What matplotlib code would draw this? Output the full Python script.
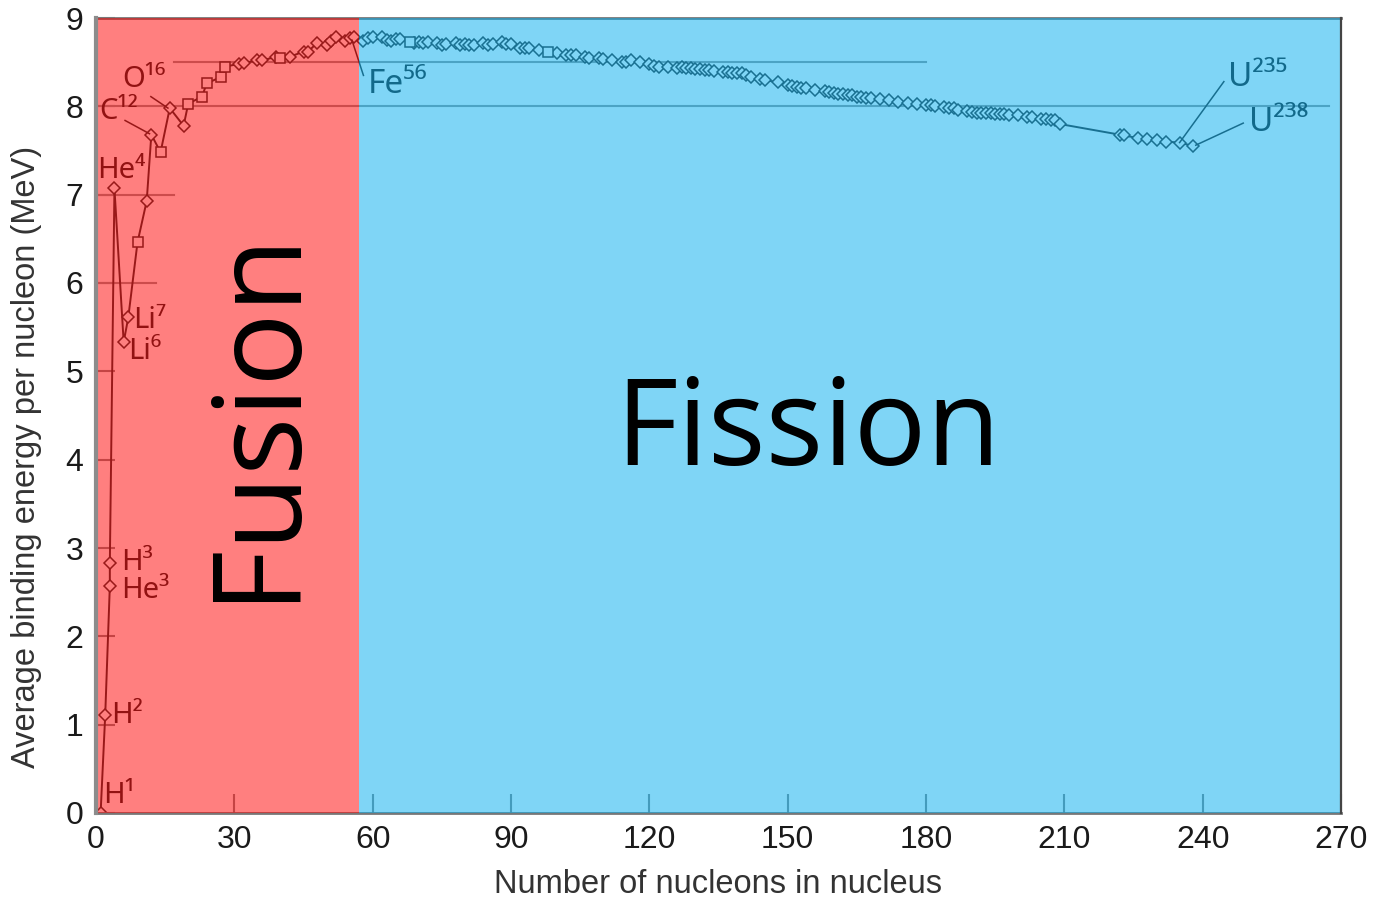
import matplotlib
matplotlib.use("Agg")
import matplotlib.pyplot as plt
from matplotlib import font_manager

# average binding energy per nucleon (MeV)
mass_number = [1, 2, 3, 3, 4, 6, 7, 9, 11, 12, 14, 16, 19, 20, 23, 24, 27, 28,
               31, 32, 35, 36, 39, 40, 42, 45, 46, 48, 50, 51, 52, 54, 55, 56,
               58, 59, 60, 62, 63, 64, 65, 66, 68, 69, 70, 71, 72, 74, 75, 76,
               78, 79, 80, 81, 82, 84, 85, 86, 88, 89, 90, 92, 93, 94, 96, 98,
               100, 102, 103, 104, 106, 107, 109, 110, 112, 114, 115, 116, 118,
               120, 121, 122, 124, 126, 127, 128, 129, 130, 131, 132, 133, 134,
               136, 137, 138, 139, 140, 141, 142, 144, 145, 148, 150, 151, 152,
               153, 154, 156, 158, 159, 160, 161, 162, 163, 164, 165, 166, 167,
               168, 170, 172, 174, 176, 178, 180, 181, 182, 184, 185, 186, 187,
               189, 190, 191, 192, 193, 194, 195, 196, 197, 198, 200, 202, 203,
               205, 206, 207, 208, 209, 222, 223, 226, 228, 230, 232, 235, 238]
binding_energy = [0.0, 1.11, 2.57, 2.83, 7.07, 5.33, 5.61, 6.46, 6.93, 7.68, 7.48,
                  7.98, 7.78, 8.03, 8.11, 8.26, 8.33, 8.45, 8.48, 8.49, 8.52, 8.52,
                  8.56, 8.55, 8.56, 8.62, 8.62, 8.72, 8.70, 8.74, 8.78, 8.74, 8.77,
                  8.79,
                  8.74, 8.77, 8.78, 8.79, 8.75, 8.74, 8.76, 8.76, 8.73, 8.72, 8.73,
                  8.72, 8.73, 8.72, 8.70, 8.71, 8.72, 8.69, 8.71, 8.70, 8.69, 8.72,
                  8.70, 8.71, 8.73, 8.71, 8.71, 8.66, 8.66, 8.66, 8.64, 8.61, 8.60,
                  8.58, 8.58, 8.58, 8.56, 8.55, 8.55, 8.54, 8.52, 8.50, 8.50, 8.52,
                  8.50, 8.48, 8.46, 8.45, 8.44, 8.43, 8.44, 8.43, 8.43, 8.42, 8.42,
                  8.41, 8.41, 8.40, 8.39, 8.39, 8.38, 8.38, 8.38, 8.35, 8.33, 8.31,
                  8.30, 8.27, 8.24, 8.23, 8.22, 8.21, 8.21, 8.19, 8.17, 8.16, 8.15,
                  8.14, 8.14, 8.13, 8.13, 8.11, 8.11, 8.10, 8.10, 8.08, 8.07, 8.05,
                  8.04, 8.03, 8.02, 8.01, 8.00, 7.99, 7.98, 7.98, 7.96, 7.95, 7.94,
                  7.93, 7.93, 7.92, 7.92, 7.91, 7.91, 7.91, 7.90, 7.90, 7.88, 7.88,
                  7.86, 7.86, 7.85, 7.85, 7.80, 7.68, 7.67, 7.64, 7.63, 7.62, 7.60,
                  7.59, 7.55]
square_points = [9, 14, 20, 23, 24, 27, 28, 40, 68, 98]

fusion_end = 57
x_ticks = [0, 30, 60, 90, 120, 150, 180, 210, 240, 270]
y_ticks = [0, 1, 2, 3, 4, 5, 6, 7, 8, 9]

labels = ["H¹", "H²", "H³", "He³", "He⁴", "Li⁶", "Li⁷", "C¹²", "O¹⁶",
          "Fe⁵⁶", "U²³⁵", "U²³⁸"]
label_x = [1.5, 3.3, 5.4, 5.4, 0.2, 7.0, 8.0, 0.6, 5.6, 59, 245.5, 250]
label_y = [0.2, 1.1, 2.84, 2.52, 7.27, 5.22, 5.58, 7.94, 8.30, 8.25, 8.33, 7.82]

# leader lines from label to its point
leaders = [((6.3, 7.84), (11.6, 7.69)),
           ((11.9, 8.11), (15.6, 7.98)),
           ((58.0, 8.35), (55.5, 8.75)),
           ((244.6, 8.28), (235.0, 7.59)),
           ((248.8, 7.81), (238.5, 7.56))]

names = set(f.name for f in font_manager.fontManager.ttflist)
if "Liberation Sans Narrow" in names:
    axis_font = "Liberation Sans Narrow"
    axis_size = 27
else:
    axis_font = "Liberation Sans"
    axis_size = 23.5

fig = plt.figure(figsize=(13.75, 9.02), dpi=100)
ax = fig.add_axes([96 / 1375, 1 - 813 / 902, 1245 / 1375, 795 / 902])
ax.set_xlim(0, 270)
ax.set_ylim(0, 9)
ax.set_axisbelow(True)

# reference lines of the original chart
ax.plot([0, 13], [6, 6], color="#9a9a9a", lw=1.5, zorder=1)
ax.plot([0, 17], [7, 7], color="#9a9a9a", lw=1.5, zorder=1)
ax.plot([0, 267.5], [8, 8], color="#9a9a9a", lw=1.5, zorder=1)
ax.plot([17, 180], [8.5, 8.5], color="#9a9a9a", lw=1.5, zorder=1)

ax.plot(mass_number, binding_energy, color="#333333", lw=1.4, zorder=1.5)
dx = [a for a in mass_number if a not in square_points]
dy = [b for a, b in zip(mass_number, binding_energy) if a not in square_points]
sx = [a for a in mass_number if a in square_points]
sy = [b for a, b in zip(mass_number, binding_energy) if a in square_points]
ax.plot(dx, dy, ls="none", marker="D", ms=6.5, mfc="white", mec="#333333",
        mew=1.1, zorder=1.6)
ax.plot(sx, sy, ls="none", marker="s", ms=7.5, mfc="white", mec="#333333",
        mew=1.1, zorder=1.6)

for (x0, y0), (x1, y1) in leaders:
    ax.plot([x0, x1], [y0, y1], color="#303030", lw=1.1, zorder=2)

for txt, x, y in zip(labels, label_x, label_y):
    size = 24 if x > 50 else 21
    ax.text(x, y, txt, ha="left", va="center", fontsize=size, color="#262626",
            family=["Noto Sans", "DejaVu Sans"], zorder=2)

# fusion / fission overlays
ax.axvspan(0, fusion_end, color="#ff0000", alpha=0.5, lw=0, zorder=3)
ax.axvspan(fusion_end, 270, color="#00adef", alpha=0.5, lw=0, zorder=3)

ax.text(42.1, 4.53, "Fusion", rotation=90, rotation_mode="anchor",
        ha="center", va="baseline", fontsize=88, family="Open Sans",
        color="black", zorder=5)
ax.text(154.4, 3.94, "Fission", ha="center", va="baseline", fontsize=87,
        family="Open Sans", color="black", zorder=5)

for side in ["top", "bottom"]:
    ax.spines[side].set_color("#777777")
    ax.spines[side].set_linewidth(2)
    ax.spines[side].set_zorder(2)
ax.spines["left"].set_color("#8c8c8c")
ax.spines["left"].set_linewidth(3)
ax.spines["left"].set_zorder(4)
ax.spines["right"].set_color("#444444")
ax.spines["right"].set_linewidth(1.6)
ax.spines["right"].set_zorder(4)

ax.set_xticks(x_ticks)
ax.set_yticks(y_ticks)
ax.tick_params(direction="in", length=14, width=1.5, color="#8a8a8a",
               labelsize=axis_size - 0.5, labelcolor="#1a1a1a", pad=9)
for lab in ax.get_xticklabels() + ax.get_yticklabels():
    lab.set_family(axis_font)

ax.set_xlabel("Number of nucleons in nucleus", fontsize=axis_size,
              family=axis_font, color="#333333")
ax.set_ylabel("Average binding energy per nucleon (MeV)", fontsize=axis_size,
              family=axis_font, color="#333333")
ax.xaxis.set_label_coords(0.5, -0.071)
ax.yaxis.set_label_coords(-0.043, 0.448)

fig.savefig("out.png", dpi=100)
